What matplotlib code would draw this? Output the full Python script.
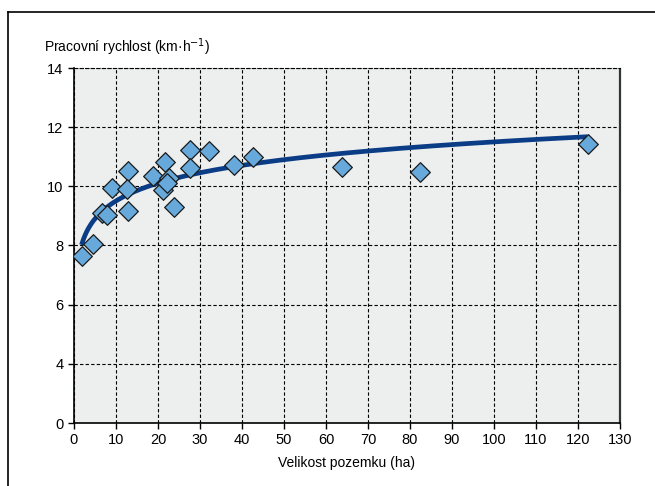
import numpy as np
import matplotlib
matplotlib.use("Agg")
import matplotlib.pyplot as plt
from matplotlib.lines import Line2D

# Data
area_ha = [1.8, 4.6, 6.6, 7.8, 9.0, 12.9, 12.5, 12.9, 18.9, 21.7, 22.5, 21.3, 22.2,
           23.8, 27.5, 27.6, 32.1, 38.1, 42.7, 63.8, 82.4, 122.3]
speed_kmh = [7.65, 8.04, 9.09, 9.03, 9.93, 10.52, 9.91, 9.15, 10.36, 10.81, 10.29, 9.88, 10.1,
             9.31, 11.23, 10.61, 11.2, 10.72, 11.0, 10.67, 10.48, 11.42]

# Logarithmic trend (y = a + b*ln x)
trend_a = 7.51
trend_b = 0.867

x_ticks = list(range(0, 131, 10))
y_ticks = [2, 4, 6, 8, 10, 12, 14]
y_tick_labels = ["0", "4", "6", "8", "10", "12", "14"]

plt.rcParams['font.family'] = ['Liberation Sans Narrow', 'Liberation Sans', 'DejaVu Sans']

fig = plt.figure(figsize=(6.55, 4.86), dpi=100)
ax = fig.add_axes([74/655, 1-423/486, (620-74)/655, (423-68)/486])
ax.set_facecolor('#EDEFEF')

xs = np.linspace(min(area_ha), max(area_ha), 300)
ax.plot(xs, trend_a + trend_b*np.log(xs), color='#0B3D86', lw=3.4, zorder=3,
        solid_capstyle='butt')
ax.scatter(area_ha, speed_kmh, marker='D', s=100, facecolor='#68A9DB',
           edgecolor='#1a1a1a', linewidth=0.9, zorder=4)

ax.set_xlim(0, 130)
ax.set_ylim(2, 14)
ax.set_xticks(x_ticks)
ax.set_yticks(y_ticks)
ax.set_yticklabels(y_tick_labels)
ax.tick_params(labelsize=10.5, length=4, width=1, color='black', direction='out')
ax.grid(True, color='black', linestyle=(0, (3, 2)), linewidth=0.8)
ax.set_axisbelow(True)
for s in ['left', 'bottom']:
    ax.spines[s].set_linewidth(1.2)
    ax.spines[s].set_color('black')
ax.spines['top'].set_linestyle((0, (3, 2)))
ax.spines['top'].set_linewidth(0.8)
ax.spines['right'].set_linestyle((0, (3, 1)))
ax.spines['right'].set_linewidth(1.6)
ax.spines['right'].set_color('#333333')

fig.text(44/655, 1-47/486, 'Pracovní rychlost (km·h$^{-1}$)', fontsize=10,
         ha='left', va='center')
ax.set_xlabel('Velikost pozemku (ha)', fontsize=10, labelpad=6)

fig.add_artist(Line2D([8/655, 8/655], [0, 1-12/486], color='black', lw=1.2,
                      transform=fig.transFigure))
fig.add_artist(Line2D([8/655, 1], [1-12/486, 1-12/486], color='black', lw=1.2,
                      transform=fig.transFigure))

fig.savefig('out.png', dpi=100)
